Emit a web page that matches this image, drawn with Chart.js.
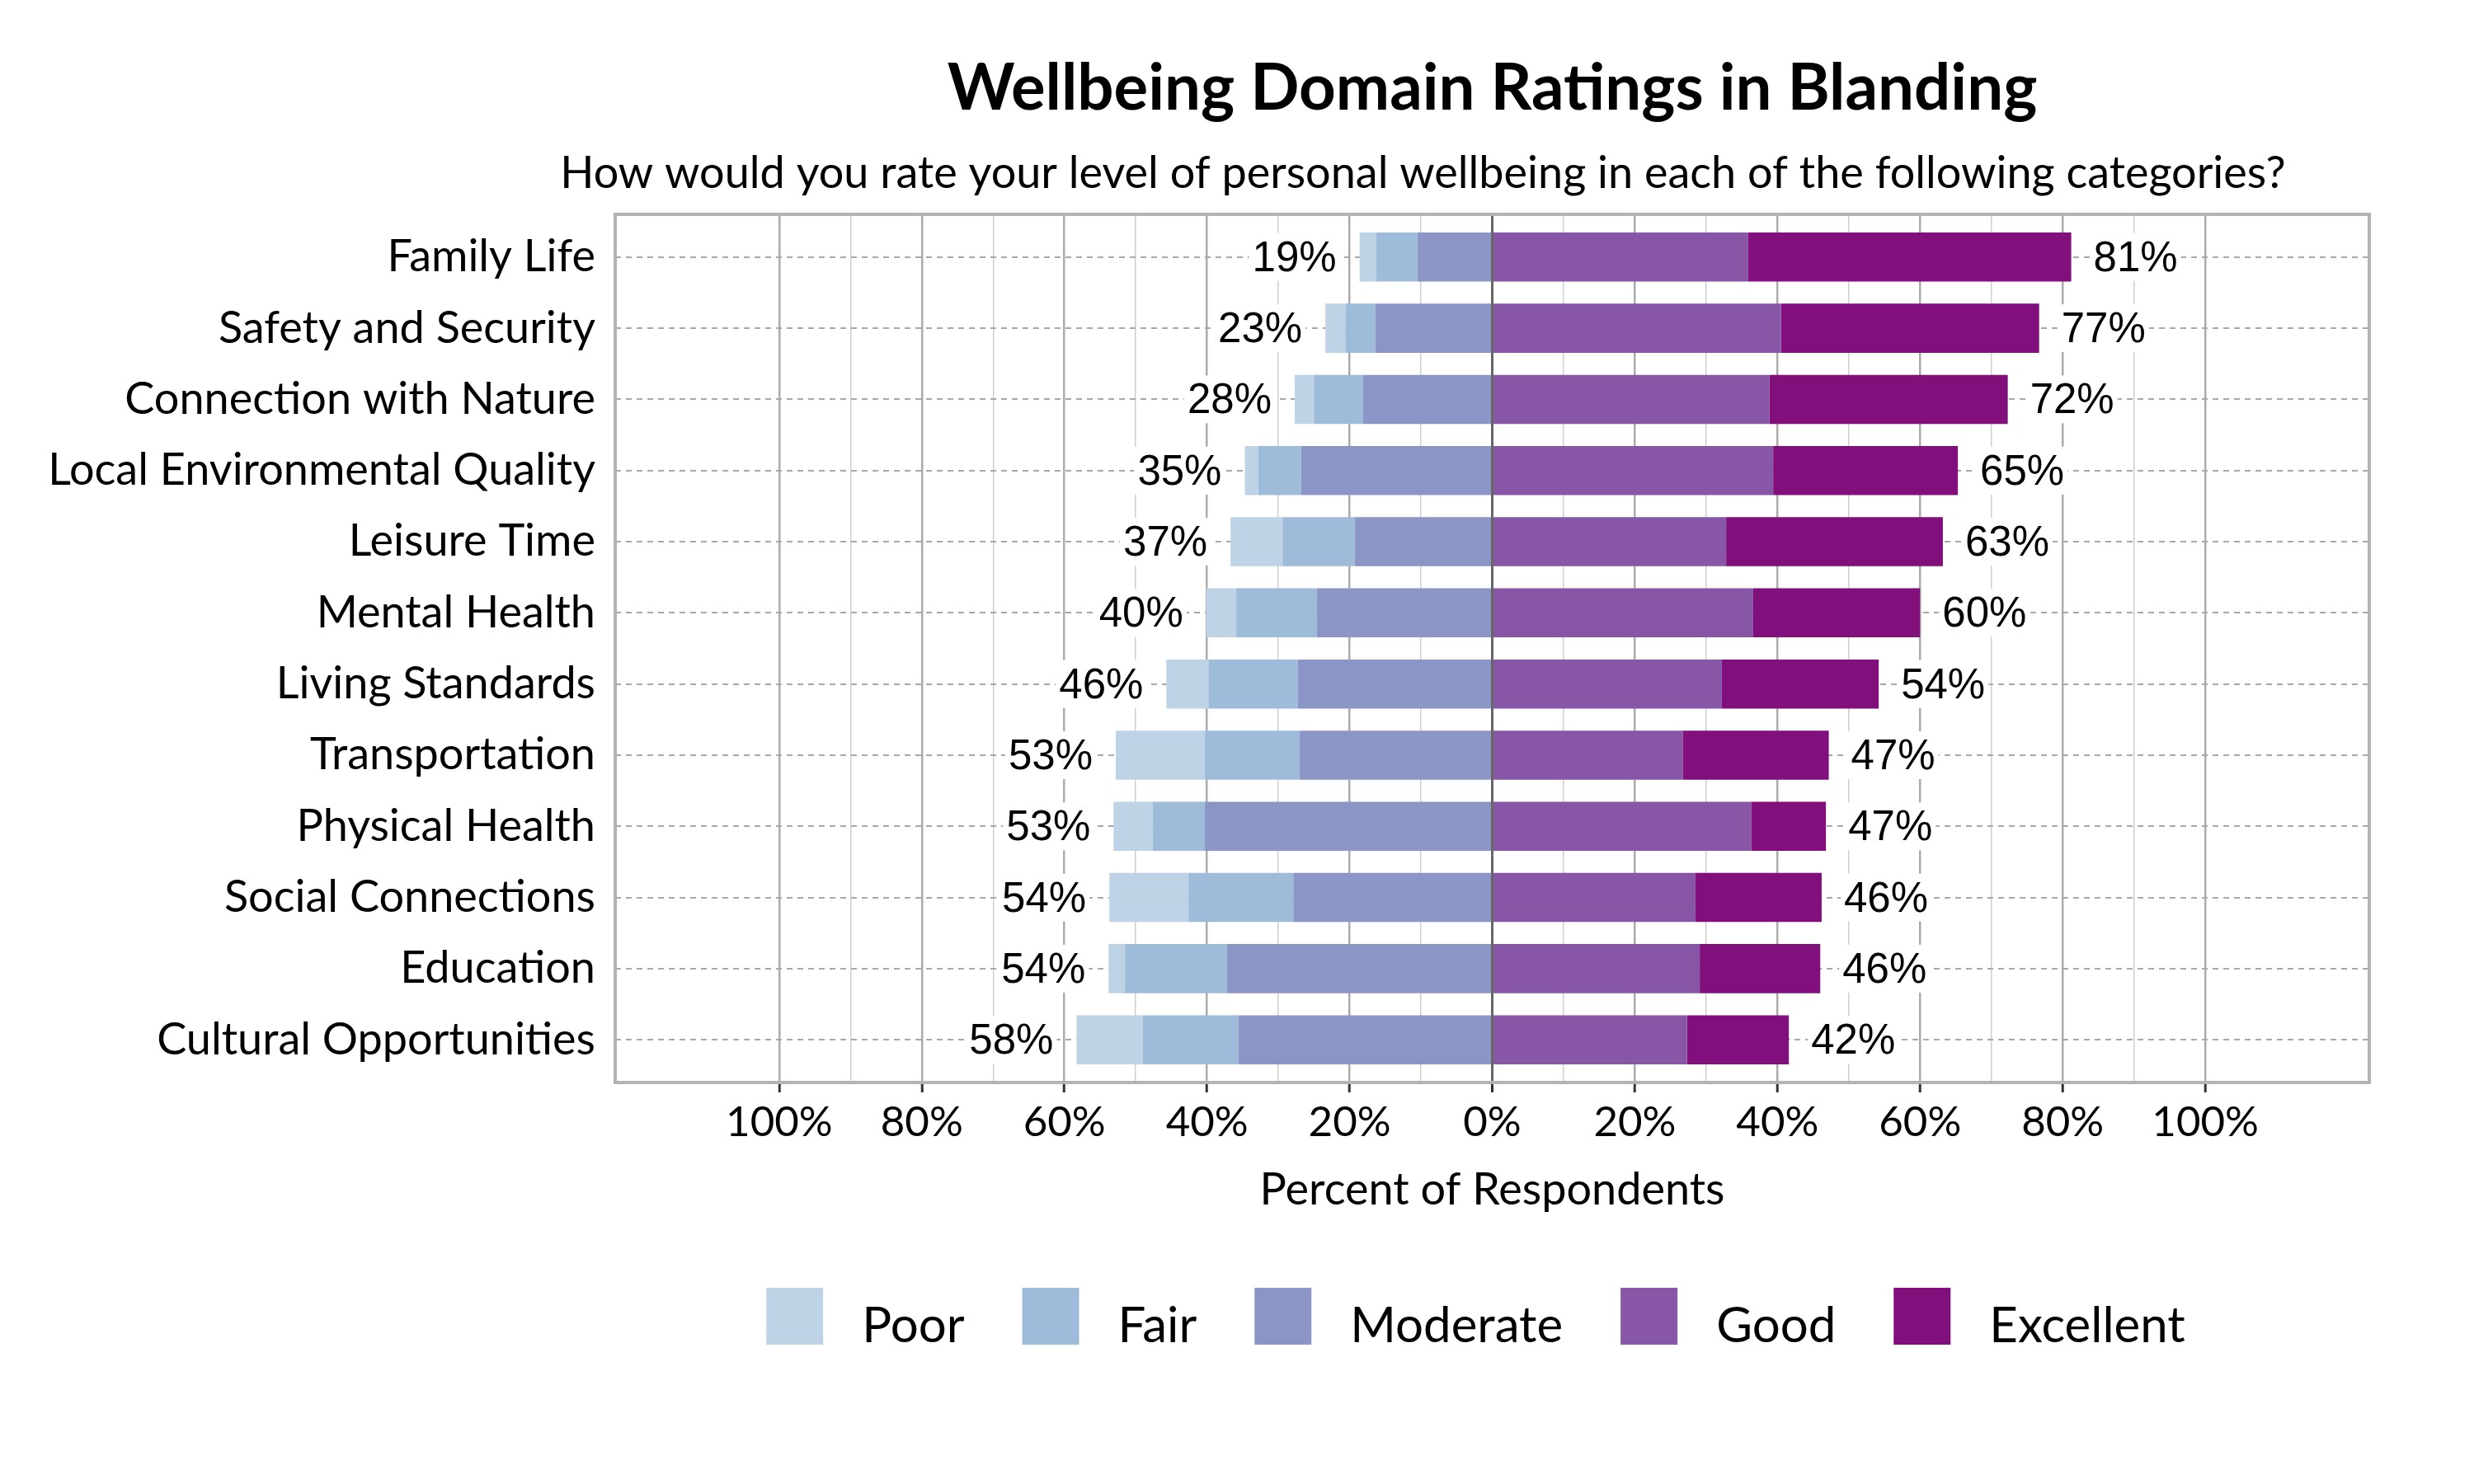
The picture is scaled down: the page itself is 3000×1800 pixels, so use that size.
<!DOCTYPE html>
<html>
<head>
<meta charset="utf-8">
<script src="https://cdn.jsdelivr.net/npm/chart.js@4.4.1/dist/chart.umd.min.js"></script>
<style>
  html, body { margin: 0; padding: 0; background: #fff; }
  #wrap { width: 3000px; height: 1800px; }
</style>
</head>
<body>
<div id="wrap"><canvas id="chart" width="3000" height="1800"></canvas></div>
<script>
// index.html
const TITLE = 'Wellbeing Domain Ratings in Blanding';
const SUBTITLE = 'How would you rate your level of personal wellbeing in each of the following categories?';
const X_TITLE = 'Percent of Respondents';

const CATEGORIES = ['Family Life', 'Safety and Security', 'Connection with Nature', 'Local Environmental Quality',
    'Leisure Time', 'Mental Health', 'Living Standards', 'Transportation', 'Physical Health',
    'Social Connections', 'Education', 'Cultural Opportunities'];

// percent of respondents per rating
const POOR      = [2.3, 2.8, 2.7, 1.9, 7.3, 4.2, 5.9, 12.5, 5.5, 11.1, 2.3, 9.3];
const FAIR      = [5.8, 4.2, 6.9, 6.0, 10.1, 11.3, 12.5, 13.3, 7.3, 14.7, 14.3, 13.4];
const MODERATE  = [10.5, 16.4, 18.1, 26.8, 19.3, 24.6, 27.3, 27.0, 40.3, 27.9, 37.2, 35.6];
const GOOD      = [35.9, 40.5, 38.9, 39.4, 32.8, 36.6, 32.2, 26.7, 36.3, 28.5, 29.1, 27.3];
const EXCELLENT = [45.3, 36.2, 33.4, 25.9, 30.4, 23.4, 22.0, 20.5, 10.5, 17.7, 16.9, 14.3];

const X_TICKS = [-100, -90, -80, -70, -60, -50, -40, -30, -20, -10, 0, 10, 20, 30, 40, 50, 60, 70, 80, 90, 100];
const LEGEND_ORDER = ['Poor', 'Fair', 'Moderate', 'Good', 'Excellent'];

// left side is drawn as negative values, one row per category index
const rows = (arr, sign) => arr.map((v, i) => ({ x: sign * v, y: i }));

function drawLabel(ctx, text, xp, yp, align) {
    const w = ctx.measureText(text).width;
    const left = align === 'right' ? xp - w : xp;
    ctx.fillStyle = '#fff';
    ctx.fillRect(left - 4, yp - 29, w + 8, 58);
    ctx.fillStyle = '#000';
    ctx.textAlign = align;
    ctx.fillText(text, xp, yp + 3);
}

// total % labels on both ends of each bar
const totalsLabels = {
    id: 'totalsLabels',
    afterDatasetsDraw(chart) {
        const { ctx, scales: { x, y } } = chart;
        ctx.save();
        ctx.font = '51px "Liberation Sans", Arial, sans-serif';
        ctx.textBaseline = 'middle';
        CATEGORIES.forEach((cat, i) => {
            const n = POOR[i] + FAIR[i] + MODERATE[i];
            const p = GOOD[i] + EXCELLENT[i];
            const yc = y.getPixelForValue(i);
            drawLabel(ctx, Math.round(n) + '%', x.getPixelForValue(-n) - 28, yc, 'right');
            drawLabel(ctx, Math.round(p) + '%', x.getPixelForValue(p) + 27, yc, 'left');
        });
        ctx.restore();
    }
};

// frame, title, subtitle and legend
const decorations = {
    id: 'decorations',
    afterDraw(chart) {
        const { ctx, chartArea } = chart;
        const cx = (chartArea.left + chartArea.right) / 2;
        ctx.save();
        ctx.strokeStyle = '#b3b3b3';
        ctx.lineWidth = 4;
        ctx.strokeRect(chartArea.left, chartArea.top, chartArea.right - chartArea.left, chartArea.bottom - chartArea.top);

        ctx.fillStyle = '#000';
        ctx.textAlign = 'center';
        ctx.textBaseline = 'alphabetic';
        ctx.font = 'bold 78px Lato';
        ctx.fillText(TITLE, cx, 133);
        ctx.font = '54px Lato';
        ctx.fillText(SUBTITLE, cx - 84, 228);

        // legend
        ctx.font = '60px Lato';
        const box = 69, gap = 47, spacing = 70;
        const items = LEGEND_ORDER.map(lbl => {
            const ds = chart.data.datasets.find(d => d.label === lbl);
            return { lbl, color: ds.backgroundColor, w: ctx.measureText(lbl).width };
        });
        const total = items.reduce((s, it) => s + box + gap + it.w, 0) + spacing * (items.length - 1);
        let lx = cx - 20 - total / 2;
        ctx.textAlign = 'left';
        items.forEach(it => {
            ctx.fillStyle = it.color;
            ctx.fillRect(lx, 1562, box, box);
            ctx.fillStyle = '#000';
            ctx.fillText(it.lbl, lx + box + gap, 1628);
            lx += box + gap + it.w + spacing;
        });
        ctx.restore();
    }
};

const ctx = document.getElementById('chart').getContext('2d');
const myChart = new Chart(ctx, {
    type: 'bar',
    data: {
        datasets: [
            { label: 'Moderate', data: rows(MODERATE, -1), backgroundColor: '#8c96c6' },
            { label: 'Fair', data: rows(FAIR, -1), backgroundColor: '#9ebcda' },
            { label: 'Poor', data: rows(POOR, -1), backgroundColor: '#bfd3e6' },
            { label: 'Good', data: rows(GOOD, 1), backgroundColor: '#8856a7' },
            { label: 'Excellent', data: rows(EXCELLENT, 1), backgroundColor: '#810f7c' }
        ]
    },
    options: {
        indexAxis: 'y',
        responsive: false,
        animation: false,
        devicePixelRatio: 1,
        layout: { padding: { top: 260, right: 127, bottom: 324, left: 0 } },
        datasets: { bar: { barPercentage: 0.69, categoryPercentage: 1, borderWidth: 0 } },
        plugins: { legend: { display: false }, title: { display: false }, tooltip: { enabled: false } },
        scales: {
            x: {
                stacked: true, min: -123, max: 123,
                afterBuildTicks: scale => { scale.ticks = X_TICKS.map(v => ({ value: v })); },
                afterFit: scale => { scale.height = 163; },
                ticks: {
                    autoSkip: false, maxRotation: 0, padding: 6, color: '#000',
                    font: { family: 'Lato', size: 51 },
                    callback: v => (v % 20 === 0 ? Math.abs(v) + '%' : '')
                },
                grid: {
                    drawTicks: true, tickLength: 12, tickWidth: 3,
                    color: c => (c.tick.value === 0 ? '#666' : c.tick.value % 20 === 0 ? '#ababab' : '#cfcfcf'),
                    lineWidth: c => (c.tick.value === 0 ? 3 : c.tick.value % 20 === 0 ? 2.5 : 1.5),
                    tickColor: c => (c.tick.value % 20 === 0 ? '#333' : 'rgba(0,0,0,0)')
                },
                border: { display: false },
                title: { display: true, text: X_TITLE, color: '#000', padding: 0, font: { family: 'Lato', size: 54 } }
            },
            y: {
                type: 'linear', stacked: true, reverse: true, offset: false,
                min: -0.6, max: CATEGORIES.length - 0.4,
                afterBuildTicks: scale => { scale.ticks = CATEGORIES.map((c, i) => ({ value: i })); },
                afterFit: scale => { scale.width = 746; },
                ticks: { autoSkip: false, padding: 24, color: '#000', font: { family: 'Lato', size: 54 },
                    callback: v => CATEGORIES[v] },
                grid: { offset: false, drawTicks: false, color: '#a8a8a8', lineWidth: 2 },
                border: { display: false, dash: [7, 6] }
            }
        }
    },
    plugins: [totalsLabels, decorations]
});
</script>
</body>
</html>
